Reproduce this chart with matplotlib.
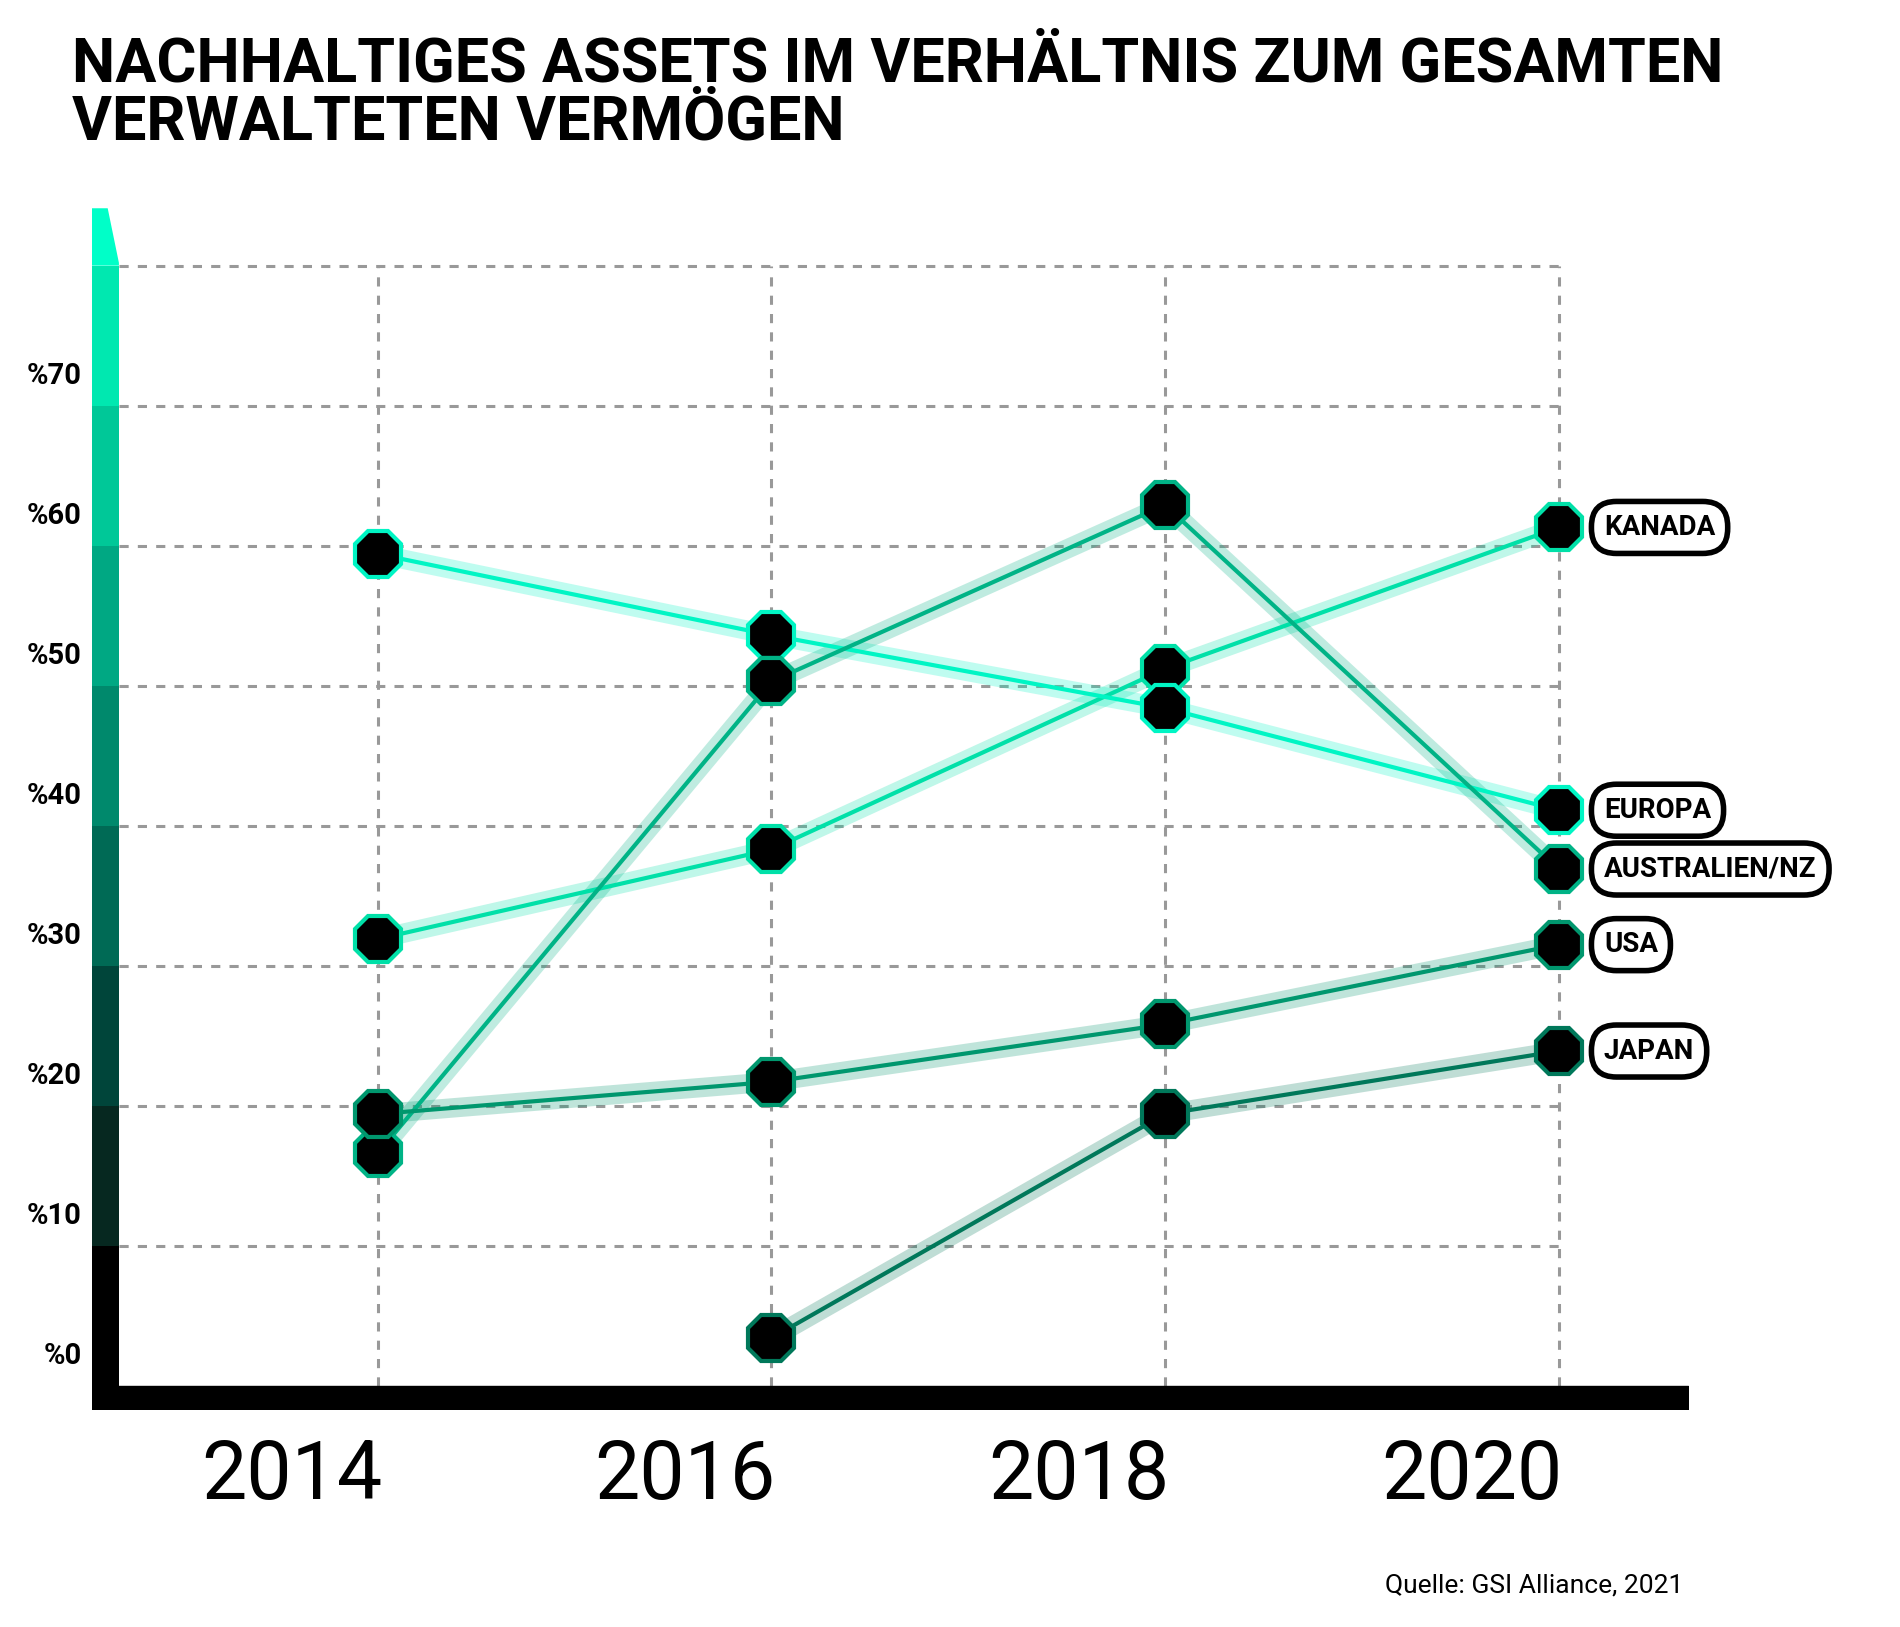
import matplotlib
matplotlib.use("Agg")
import matplotlib.pyplot as plt
from matplotlib.patches import Polygon

years = [2014, 2016, 2018, 2020]
series = {
    "KANADA": [31.9, 38.3, 51.2, 61.3],
    "EUROPA": [59.4, 53.6, 48.4, 41.1],
    "AUSTRALIEN/NZ": [16.6, 50.3, 62.9, 36.9],
    "USA": [19.4, 21.7, 25.8, 31.5],
    "JAPAN": [None, 3.4, 19.4, 23.9],
}
colors = {"KANADA": "#00e0a8", "EUROPA": "#00f5c4", "AUSTRALIEN/NZ": "#00b386",
          "USA": "#00976e", "JAPAN": "#00785a"}
yticks = [0, 10, 20, 30, 40, 50, 60, 70]
ytick_labels = ["%" + str(v) for v in yticks]
band_colors = ["#000000", "#062820", "#00453a", "#006a55", "#00896c", "#00a883", "#00c898", "#00e8b0"]

plt.rcParams['font.family'] = ['Roboto', 'DejaVu Sans']
fig = plt.figure(figsize=(19, 16.27), dpi=100)
ax = fig.add_axes([0.0484, 0.134, 0.8398, 0.738])
X0, X1 = 2012.547, 2020.655
Y0, Y1 = -1.67, 84.1
ax.set_xlim(X0, X1); ax.set_ylim(Y0, Y1); ax.axis("off")
barw = 0.137
# grid
for v in range(10, 90, 10):
    ax.plot([X0 + barw, 2020], [v, v], ls=(0, (3, 3)), color="#999999", lw=2.2, zorder=1)
for yr in years:
    ax.plot([yr, yr], [0, 80], ls=(0, (3, 3)), color="#999999", lw=2.2, zorder=1)
# bottom bar
ax.fill_between([X0, X1], Y0, 0, color="black", zorder=2)
# left bar bands
for i, c in enumerate(band_colors):
    ax.fill_between([X0, X0 + barw], i * 10, i * 10 + 10, color=c, lw=0, zorder=2)
ax.add_patch(Polygon([[X0, 80], [X0 + barw, 80], [X0 + barw, 80.2], [X0 + 0.08, 84.1], [X0, 84.1]],
                     color="#00ffc8", lw=0, zorder=2))
# series
for name, vals in series.items():
    xs = [y for y, v in zip(years, vals) if v is not None]
    vs = [v for v in vals if v is not None]
    c = colors[name]
    ax.plot(xs, vs, color=c, lw=14, alpha=0.25, zorder=3, solid_capstyle="round")
    ax.plot(xs, vs, color=c, lw=3, zorder=4)
    ax.plot(xs, vs, ls="none", marker="8", ms=36, mfc="black", mec=c, mew=3, zorder=5)
    ax.text(2020.23, vs[-1], name, fontsize=20, fontweight="bold", va="center", ha="left", zorder=6,
            bbox=dict(boxstyle="round,pad=0.45,rounding_size=0.9", fc="white", ec="black", lw=4))
# y labels
for v, lab in zip(yticks, ytick_labels):
    fig.text(0.043, ax.transData.transform((0, v + 2.1))[1] / fig.bbox.height, lab,
             fontsize=21, fontweight="bold", ha="right", va="center")
# x labels
for yr in years:
    ax.text(yr - 0.44, -6.5, str(yr), fontsize=58, ha="center", va="center")
fig.text(0.038, 0.978, "NACHHALTIGES ASSETS IM VERHÄLTNIS ZUM GESAMTEN\nVERWALTETEN VERMÖGEN",
         fontsize=44, fontweight="bold", ha="left", va="top", linespacing=1.0)
fig.text(0.886, 0.018, "Quelle: GSI Alliance, 2021", fontsize=19, ha="right", va="bottom")
fig.savefig("out.png", dpi=100)
